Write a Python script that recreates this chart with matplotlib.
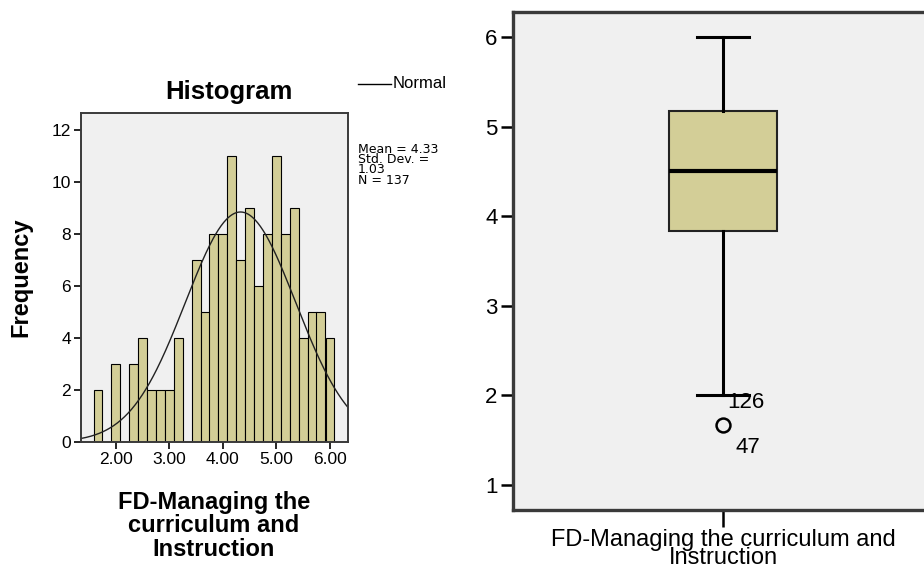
import numpy as np
import matplotlib
matplotlib.use('Agg')
import matplotlib.pyplot as plt
from matplotlib.lines import Line2D

plt.rcParams['font.family'] = ['Liberation Sans', 'DejaVu Sans']

# histogram: bin centres (scores) and frequencies
score_bins = [1.67, 1.83, 2.00, 2.17, 2.33, 2.50, 2.67, 2.83, 3.00, 3.17, 3.33, 3.50, 3.67, 3.83,
              4.00, 4.17, 4.33, 4.50, 4.67, 4.83, 5.00, 5.17, 5.33, 5.50, 5.67, 5.83, 6.00]
frequency = [2, 0, 3, 0, 3, 4, 2, 2, 2, 4, 0, 7, 5, 8,
             8, 11, 7, 9, 6, 8, 11, 8, 9, 4, 5, 5, 4]
bin_width = 1 / 6
mean_val = 4.33
std_val = 1.03
n_val = 137

# boxplot summary
box_stats = {'med': 4.5, 'q1': 3.83, 'q3': 5.17, 'whislo': 2.0, 'whishi': 6.0, 'fliers': [1.667]}
outlier_ids = ['126', '47']

bar_color = '#d3ce97'
bg_color = '#f0f0f0'
frame_color = '#3a3a3a'
W, H = 924, 569

fig = plt.figure(figsize=(9.24, 5.69), dpi=100)

# ---------------- histogram ----------------
ax1 = fig.add_axes([80.7 / W, 1 - 442 / H, (348 - 80.7) / W, (442 - 113) / H])
ax1.set_facecolor(bg_color)
ax1.bar(score_bins, frequency, width=bin_width, color=bar_color, edgecolor='black', linewidth=0.8)
ax1.set_xlim(1.347, 6.336)
ax1.set_ylim(0, 12.65)
xs = np.linspace(1.347, 6.336, 300)
ys = n_val * bin_width * np.exp(-0.5 * ((xs - mean_val) / std_val) ** 2) / (std_val * np.sqrt(2 * np.pi))
ax1.plot(xs, ys, color='#222222', linewidth=1.0)
ax1.set_xticks([2, 3, 4, 5, 6])
ax1.set_xticklabels(['2.00', '3.00', '4.00', '5.00', '6.00'])
ax1.set_yticks([0, 2, 4, 6, 8, 10, 12])
ax1.tick_params(direction='out', length=5, width=1.2, labelsize=12.5, colors='black', pad=2)
for sp in ax1.spines.values():
    sp.set_color(frame_color)
    sp.set_linewidth(1.4)

fig.text(229 / W, 1 - 92 / H, 'Histogram', ha='center', va='center', fontsize=18.5, fontweight='bold')
fig.text(21 / W, 1 - 277 / H, 'Frequency', ha='center', va='center', rotation=90,
         fontsize=17, fontweight='bold')
fig.text(214 / W, 1 - 526 / H, 'FD-Managing the\ncurriculum and\nInstruction', ha='center', va='center',
         fontsize=17, fontweight='bold', linespacing=1.0)

# legend line + stats text
fig.add_artist(Line2D([358 / W, 391 / W], [1 - 84 / H, 1 - 84 / H], color='black', linewidth=1.0))
fig.text(393 / W, 1 - 84 / H, 'Normal', ha='left', va='center', fontsize=12)
fig.text(358 / W, 1 - 143 / H, 'Mean = 4.33\nStd. Dev. =\n1.03\nN = 137', ha='left', va='top',
         fontsize=9, family='DejaVu Sans', linespacing=0.72)

# ---------------- boxplot ----------------
ax2 = fig.add_axes([513 / W, 1 - 510 / H, (940 - 513) / W, (510 - 12) / H])
ax2.set_facecolor(bg_color)
ax2.bxp([box_stats], positions=[1], widths=0.255, capwidths=0.124, patch_artist=True,
        boxprops=dict(facecolor=bar_color, edgecolor='#222222', linewidth=1.5),
        medianprops=dict(color='black', linewidth=3.0),
        whiskerprops=dict(color='black', linewidth=2.2),
        capprops=dict(color='black', linewidth=2.2),
        flierprops=dict(marker='o', markersize=10, markerfacecolor='none',
                        markeredgecolor='black', markeredgewidth=1.8))
ax2.set_xlim(0.5, 0.5 + 427 / 210 * 0.5)
ax2.set_ylim(0.72, 6.28)
ax2.set_yticks([1, 2, 3, 4, 5, 6])
ax2.set_xticks([1])
ax2.set_xticklabels(['FD-Managing the curriculum and\nInstruction'], fontsize=17, linespacing=0.72)
ax2.tick_params(axis='y', direction='out', length=9, width=1.8, labelsize=16, pad=2)
ax2.tick_params(axis='x', direction='out', length=12, width=1.8, pad=2)
for sp in ax2.spines.values():
    sp.set_color(frame_color)
    sp.set_linewidth(2.4)

# outlier case numbers
ax2.text(1.01, box_stats['whislo'] - 0.08, outlier_ids[0], ha='left', va='center', fontsize=16)
ax2.text(1.03, box_stats['fliers'][0] - 0.25, outlier_ids[1], ha='left', va='center', fontsize=16)

fig.savefig('out.png', dpi=100, facecolor='white')
